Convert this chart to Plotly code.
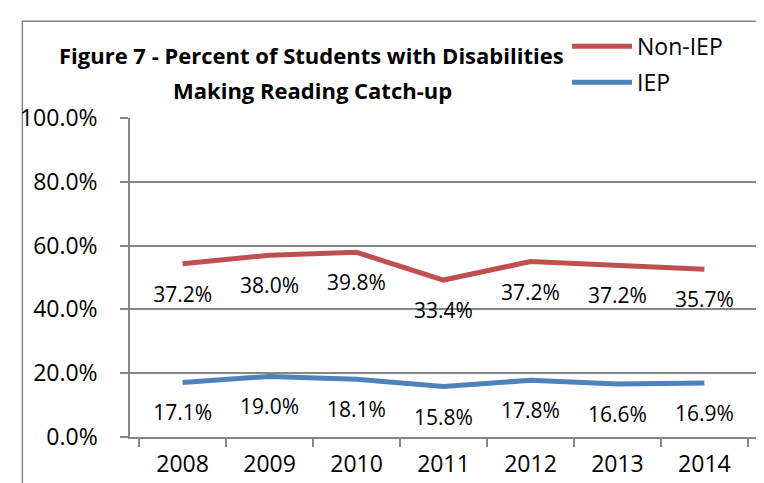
import plotly.graph_objects as go

years = ["2008", "2009", "2010", "2011", "2012", "2013", "2014"]
iep = [17.1, 19.0, 18.1, 15.8, 17.8, 16.6, 16.9]
non_iep = [37.2, 38.0, 39.8, 33.4, 37.2, 37.2, 35.7]

RED = "#C0504D"
BLUE = "#4F81BD"
FONT = "Open Sans, sans-serif"
GRID = "#868686"

fig = go.Figure()
# Excel "stacked line": Non-IEP is drawn on top of IEP
for name, vals, color, rank in [("IEP", iep, BLUE, 2), ("Non-IEP", non_iep, RED, 1)]:
    fig.add_trace(
        go.Scatter(
            x=years,
            y=[v / 100 for v in vals],
            name=name,
            legendgroup=name,
            legendrank=rank,
            stackgroup="one",
            fill="none",
            mode="lines+markers+text",
            line=dict(color=color, width=5),
            # invisible markers only push the data labels below the line
            marker=dict(size=34, color="rgba(0,0,0,0)"),
            text=[f"{v:.1f}%" for v in vals],
            textposition="bottom center",
            textfont=dict(size=21, color="#000000", family=FONT),
            hoverinfo="x+y+name",
        )
    )

fig.update_layout(
    width=764,
    height=483,
    margin=dict(l=120, r=15, t=110, b=50),
    paper_bgcolor="white",
    plot_bgcolor="white",
    font=dict(family=FONT, color="#000000"),
    title=dict(
        text="<b>Figure 7 - Percent of Students with Disabilities</b>",
        x=0.397,
        xanchor="center",
        y=0.9,
        yanchor="middle",
        font=dict(size=22, family=FONT),
    ),
    legend=dict(
        x=0.697,
        y=1.292,
        xanchor="left",
        yanchor="top",
        traceorder="grouped",
        font=dict(size=23, family=FONT),
        itemwidth=60,
        tracegroupgap=3,
        bgcolor="rgba(0,0,0,0)",
    ),
    showlegend=True,
    xaxis=dict(
        type="category",
        tickson="boundaries",
        ticks="outside",
        ticklen=8,
        tickwidth=1.5,
        tickcolor=GRID,
        showgrid=False,
        showline=True,
        linecolor=GRID,
        linewidth=1.5,
        ticklabelstandoff=6,
        tickfont=dict(size=23, family=FONT),
        fixedrange=True,
    ),
    yaxis=dict(
        range=[0, 1],
        dtick=0.2,
        tickformat=".1%",
        ticks="outside",
        ticklen=8,
        tickwidth=1.5,
        tickcolor=GRID,
        showgrid=True,
        gridcolor=GRID,
        gridwidth=1.5,
        showline=True,
        linecolor=GRID,
        linewidth=1.5,
        zeroline=False,
        ticklabelstandoff=18,
        tickfont=dict(size=23, family=FONT),
    ),
)

# second title line, set a little lower than a plain <br> would put it
fig.add_annotation(
    text="<b>Making Reading Catch-up</b>",
    xref="paper",
    yref="paper",
    x=(303 - 120) / 629,
    y=1.0867,
    xanchor="center",
    yanchor="middle",
    showarrow=False,
    font=dict(size=22, family=FONT),
)

# outer chart-area border
fig.add_shape(
    type="rect",
    xref="paper",
    yref="paper",
    x0=-0.1717,
    x1=1.05,
    y0=-0.2,
    y1=1.3034,
    line=dict(color=GRID, width=1.5),
    layer="below",
)

fig.write_html("out.html")
